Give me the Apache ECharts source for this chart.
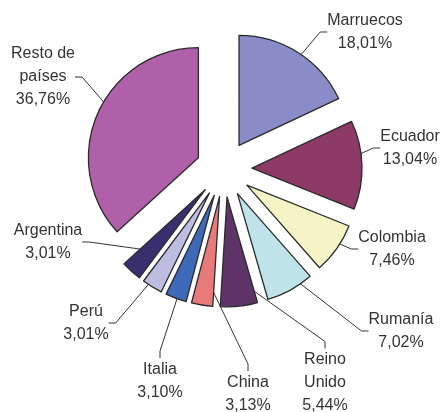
<!DOCTYPE html>
<html><head><meta charset="utf-8">
<script src="https://cdn.jsdelivr.net/npm/echarts@6/dist/echarts.min.js"></script>
<style>html,body{margin:0;padding:0;background:#fff}#c{width:443px;height:412px}</style>
</head><body><div id="c"></div>
<script>
const categories = ['Marruecos','Ecuador','Colombia','Rumanía','Reino\nUnido','China','Italia','Perú','Argentina','Resto de\npaíses'];
const values = [18.01,13.04,7.46,7.02,5.44,3.13,3.10,3.01,3.01,36.76];
const valueLabels = ['18,01%','13,04%','7,46%','7,02%','5,44%','3,13%','3,10%','3,01%','3,01%','36,76%'];
const colors = ['#8a8cc8','#8e3a66','#f4f4c6','#bee4ea','#5e3468','#e97a7a','#3e68b8','#bcbde0','#3a2f6e','#b060a8'];
// label anchor positions (layout only)
const labelPos = [[365,32],[410,148],[392,249],[401,331],[325,383],[248,394],[160,381],[86,323],[48,242],[43,77]];

const chart = echarts.init(document.getElementById('c'), null, {renderer:'canvas'});
const common = {
  type:'pie',
  center:[224,169],
  radius:[0,110],
  startAngle:90,
  clockwise:true,
  avoidLabelOverlap:false,
  emphasis:{disabled:true},
  silent:true
};
chart.setOption({
  animation:false,
  series:[
    Object.assign({}, common, {
      name:'labels',
      z:1,
      itemStyle:{color:'rgba(0,0,0,0)',borderWidth:0},
      label:{
        show:true,
        position:'outside',
        fontFamily:'Liberation Sans, Arial, sans-serif',
        fontSize:16,
        lineHeight:23,
        color:'#333',
        align:'center',
        formatter:function(p){return categories[p.dataIndex]+'\n'+valueLabels[p.dataIndex];}
      },
      labelLine:{show:true,length:10,length2:7,lineStyle:{color:'#333',width:1}},
      labelLayout:function(p){
        const pos = labelPos[p.dataIndex];
        return {x:pos[0],y:pos[1],align:'center',verticalAlign:'middle'};
      },
      data:categories.map((c,i)=>({name:c,value:values[i]}))
    }),
    Object.assign({}, common, {
      name:'slices',
      z:2,
      selectedMode:'multiple',
      selectedOffset:28,
      itemStyle:{borderColor:'#2a2a2a',borderWidth:1.3},
      label:{show:false},
      labelLine:{show:false},
      data:categories.map((c,i)=>({name:c,value:values[i],selected:true,itemStyle:{color:colors[i]}}))
    })
  ]
});
</script></body></html>
